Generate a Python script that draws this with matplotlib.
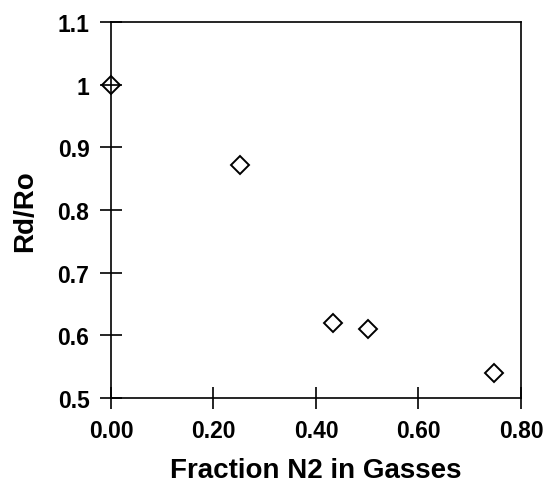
import matplotlib
matplotlib.use("Agg")
import matplotlib.pyplot as plt

# N2 fraction in the feed gas vs. normalised resistance
fraction_n2 = [0.0, 0.252, 0.433, 0.501, 0.748]
rd_ro = [1.0, 0.872, 0.62, 0.61, 0.54]

x_ticks = [0.0, 0.2, 0.4, 0.6, 0.8]
y_ticks = [0.5, 0.6, 0.7, 0.8, 0.9, 1.0, 1.1]

plt.rcParams['font.family'] = ['Liberation Sans', 'DejaVu Sans']
plt.rcParams['font.weight'] = 'bold'

fig = plt.figure(figsize=(5.43, 4.85), dpi=100)
ax = fig.add_axes([0.2044, 0.1773, 0.755, 0.7753])

ax.plot(fraction_n2, rd_ro, linestyle='none', marker='D', markersize=9,
        markerfacecolor='none', markeredgecolor='black', markeredgewidth=1.4,
        clip_on=False, zorder=3)

ax.set_xlim(0, 0.8)
ax.set_ylim(0.5, 1.1)
ax.set_xticks(x_ticks)
ax.set_xticklabels([f"{v:.2f}" for v in x_ticks])
ax.set_yticks(y_ticks)
ax.set_yticklabels([f"{v:g}" for v in y_ticks])

ax.tick_params(direction='inout', length=16, width=1.2, labelsize=16.5, colors='black')
ax.tick_params(axis='x', pad=7)
ax.tick_params(axis='y', pad=7.5)
for s in ax.spines.values():
    s.set_linewidth(1.2)

ax.set_xlabel("Fraction N2 in Gasses", fontsize=20, fontweight='bold', labelpad=11)
ax.set_ylabel("Rd/Ro", fontsize=20, fontweight='bold', labelpad=14)

fig.savefig("out.png", dpi=100)
